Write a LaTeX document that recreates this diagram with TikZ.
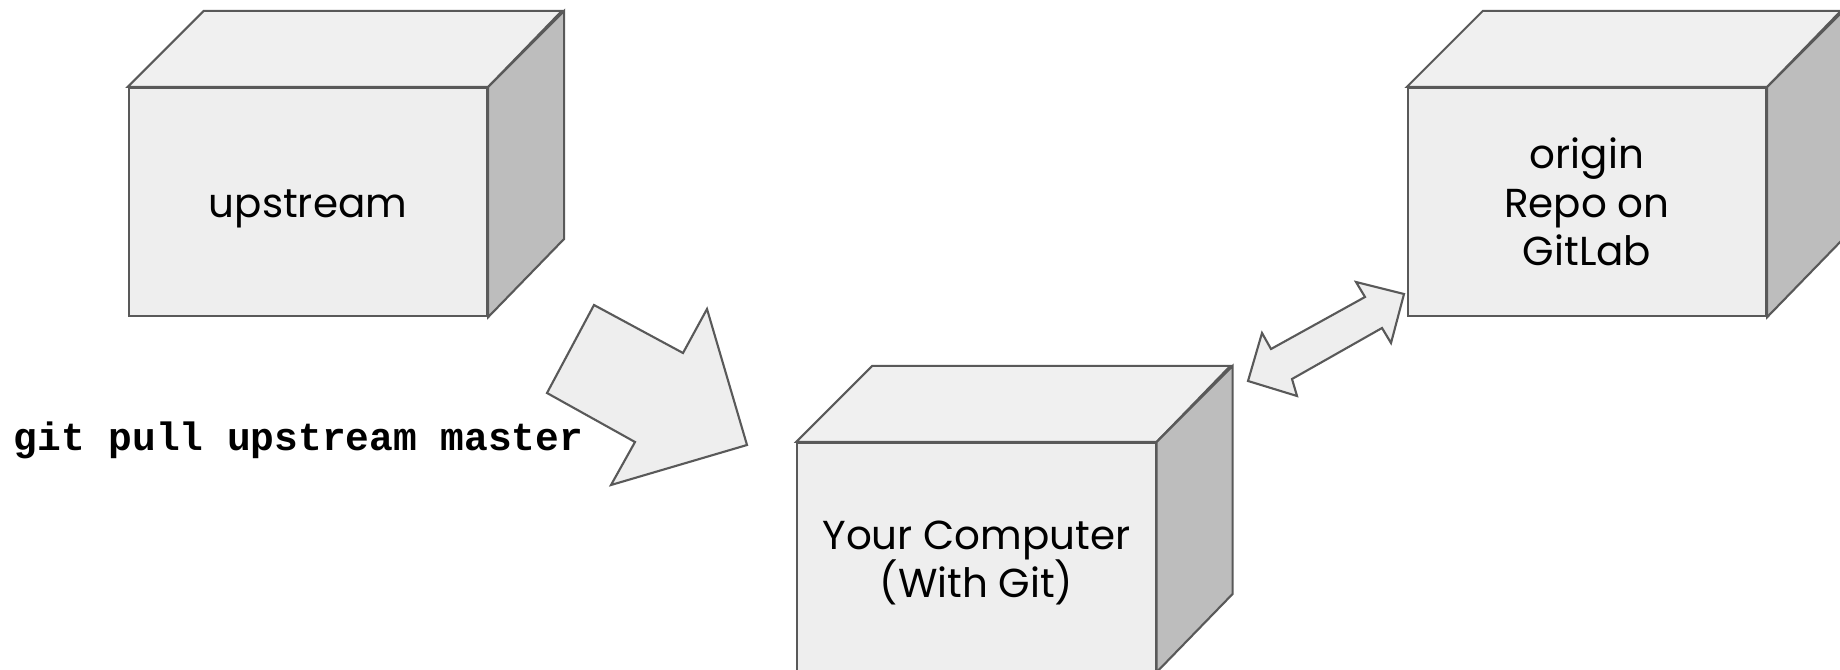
\documentclass[tikz,border=0pt]{standalone}
\usepackage{fontspec}
\setmainfont{Poppins}
\newfontfamily\codefont{Liberation Mono}
\definecolor{edgec}{HTML}{595959}
\definecolor{frontc}{HTML}{EEEEEE}
\definecolor{topc}{HTML}{F0F0F0}
\definecolor{sidec}{HTML}{BDBDBD}
\tikzset{
  edge/.style={draw=edgec, line width=0.6pt, line join=miter},
  front/.style={edge, fill=frontc, rectangle, minimum width=3.58cm, minimum height=2.28cm,
    inner sep=0pt},
  boxtext/.style={inner sep=0pt, align=center, font=\fontsize{11.5}{13.8}\selectfont},
  blockarrow/.style={edge, fill=frontc},
  codelabel/.style={anchor=west, inner sep=0pt, font=\codefont\bfseries\fontsize{11.24}{13}\selectfont}
}
\newcommand\cubeparts[1]{%
  \draw[edge, fill=topc] (#1.north west) -- ++(76,-76) -- ++(358,0) -- (#1.north east) -- cycle;
  \draw[edge, fill=sidec] (#1.north east) -- ++(76,-76) -- ++(0,228) -- (#1.south east) -- cycle;
}
\begin{document}
\begin{tikzpicture}[x=0.01cm, y=-0.01cm]
  \useasboundingbox (0,0) rectangle (1840,670);
  % cubes
  \node[front] (up) at (308,202) {};
  \cubeparts{up}
  \node[boxtext] (uptext) at (308,209) {upstream};
  \node[front] (origin) at (1587,202) {};
  \cubeparts{origin}
  \node[boxtext] (origintext) at (1587,202) {origin\\Repo on\\GitLab};
  \node[front] (pc) at (976.5,557) {};
  \cubeparts{pc}
  \node[boxtext] (pctext) at (976.5,563) {Your Computer\\(With Git)};
  % big arrow
  \draw[blockarrow] (594,305) -- (683,353) -- (707,309) -- (747,445) -- (611,485)
    -- (635,442) -- (547,393) -- cycle;
  % double arrow
  \draw[blockarrow] (1356,282) -- (1404,294) -- (1391,343) -- (1382,328) -- (1292,379)
    -- (1297,396) -- (1248,381) -- (1262,333) -- (1271,349) -- (1365,297) -- cycle;
  % label
  \node[codelabel] (cmd) at (13,440) {git pull upstream master};
\end{tikzpicture}
\end{document}
